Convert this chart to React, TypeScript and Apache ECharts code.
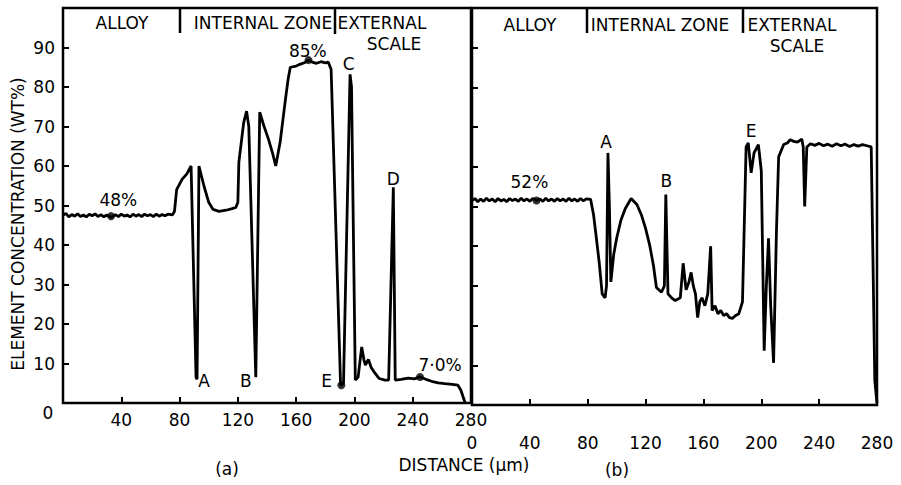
import React, { useEffect, useRef } from "react";
import * as echarts from "echarts";

// Distance (µm) vs element concentration (wt%) — panel (a)
const profileA: [number, number][] = [
  [0, 47.5], [2, 48], [4, 47.1], [6, 47.7], [8, 47.3], [10, 47.9], [12, 47.2], [14, 47.6],
  [16, 47.1], [18, 47.8], [20, 47.4], [22, 47.9], [24, 47.2], [26, 47.7], [28, 47.1],
  [30, 47.6], [33, 47.0], [36, 47.7], [38, 47.2], [40, 47.8], [42, 47.3], [44, 47.6],
  [46, 47.1], [48, 47.8], [50, 47.3], [52, 47.7], [54, 47.2], [56, 47.8], [58, 47.4],
  [60, 47.7], [62, 47.2], [64, 47.8], [66, 47.3], [68, 47.7], [70, 47.4], [72, 47.8],
  [75, 47.6], [76.5, 48.5], [78, 54], [81.7, 56.6],
  [85, 58], [87.9, 60], [91.3, 6.5], [92, 6], [93.3, 60], [96.7, 55], [100, 50.8],
  [103, 49], [107, 48.5], [112, 48.8], [116, 49.2], [118.6, 49.5], [120, 50.8],
  [120.7, 61], [124, 71], [126, 73.9], [127.5, 70], [132.3, 6.5], [135, 73.6], [138, 70],
  [141, 66.8], [144, 63], [146, 60], [149, 66], [152.7, 77], [154.5, 82], [156, 85],
  [160, 85.3], [163, 85.8], [166, 86.2], [168.5, 86.8], [171, 86.3], [174, 86], [177, 86.4],
  [180, 86.1], [182, 86.3], [184, 84.5], [190.5, 4.5], [192.5, 5], [197, 83.2], [198, 80],
  [200.6, 5.8], [202.5, 6.5], [205, 14.2], [206.5, 11], [207.5, 9.6], [209.6, 11],
  [211.5, 9], [214, 7.6], [217, 6.2], [221, 5.8], [223.5, 5.8], [226.7, 54.6], [228, 5.8],
  [232, 6], [237, 6.3], [241, 6.1], [245, 6.6], [249, 6], [253, 5.5], [257.5, 5.1],
  [262, 4.9], [267, 4.7], [271, 4.5], [273, 3.3], [276, 0],
];

// panel (b)
const profileB: [number, number][] = [
  [0, 51.5], [2, 52], [4, 51.2], [6, 51.9], [8, 51.3], [10, 52.1], [12, 51.4], [14, 51.9],
  [16, 51.2], [18, 52], [20, 51.4], [22, 51.8], [24, 51.2], [26, 52], [28, 51.5], [30, 51.9],
  [32, 51.3], [34, 52.1], [36, 51.4], [38, 51.9], [40, 51.3], [42, 52], [44.6, 51.5],
  [47, 51.9], [49, 51.3], [51, 52.1], [53, 51.4], [55, 51.9], [57, 51.3], [59, 52],
  [61, 51.4], [63, 51.9], [65, 51.3], [67, 52.1], [69, 51.4], [71, 51.9], [73, 51.3],
  [75, 52], [77, 51.4], [79, 51.9], [82, 51.8], [84, 48], [86, 42],
  [88, 35.7], [90, 28], [92, 27], [93, 30], [94, 63.5], [95, 50], [96, 31], [98, 38],
  [100, 42], [103, 46.6], [106, 49.5], [110, 52], [114, 50.5], [117, 48], [120, 44.5],
  [123, 40], [125.5, 35], [127.5, 29.6], [131, 28.4], [133, 30], [134, 53], [135.5, 28],
  [138, 27], [140.5, 26.3], [144, 27], [146, 35.7], [148, 29], [150, 31], [151.5, 33.4],
  [153, 30], [154.5, 28], [156, 22], [157.5, 26], [159, 27], [161, 25], [163, 28],
  [165, 40], [166, 23.8], [168, 25], [170, 23], [172, 23.8], [174, 22.5], [176, 23],
  [178, 22], [180, 21.8], [182, 22.5], [184.5, 23], [187, 26], [189.5, 65], [191, 66],
  [193, 58.5], [195, 63.5], [198, 65.6], [200, 59], [202, 13.7], [203.5, 30], [205, 42],
  [206.5, 25], [208.5, 10.6], [210.5, 44], [212, 62.5], [215.5, 65.6], [218, 66],
  [220, 66.8], [222.5, 66.4], [225, 66.2], [228, 67], [229, 65], [230, 50], [231.5, 65],
  [234, 65.8], [237, 65.4], [240, 65.9], [243, 65.3], [246, 65.7], [249, 65.2], [252, 65.8],
  [255, 65.3], [258, 65.7], [261, 65.1], [264, 65.6], [267, 65.2], [270, 65.6], [273, 65.3],
  [276, 65], [278.5, 6], [280, 0.5],
];

const dotsA: [number, number][] = [[33, 47.3], [168.5, 86.8], [245, 6.6], [191, 4.5]];
const dotsB: [number, number][] = [[44.6, 51.5]];

const notesA: [number, number, string][] = [
  [38, 51.5, "48%"], [168, 89, "85%"], [96.8, 5.6, "A"], [125.5, 5.6, "B"],
  [181, 5.6, "E"], [196, 85.8, "C"], [226.7, 56.6, "D"], [258.8, 9.6, "7·0%"],
];
const notesB: [number, number, string][] = [
  [39.7, 56.2, "52%"], [92.6, 66.3, "A"], [134.4, 56.5, "B"], [193, 69, "E"],
];

const FONT = "DejaVu Sans";

export default function App() {
  const ref = useRef<HTMLDivElement>(null);
  useEffect(() => {
    if (!ref.current) return;
    const chart = echarts.init(ref.current, undefined, { renderer: "svg" });
    const txt = (x: number, y: number, s: string, size = 17, extra: any = {}) => ({
      type: "text",
      x,
      y,
      z: 10,
      ...extra,
      style: {
        text: s,
        fill: "#000",
        font: `${size}px "${FONT}"`,
        textAlign: "center",
        textVerticalAlign: "middle",
      },
    });
    const vline = (x: number, y1: number, y2: number) => ({
      type: "line",
      shape: { x1: x, y1, x2: x, y2 },
      style: { stroke: "#000", lineWidth: 2.5 },
    });
    const tick = { show: true, inside: true, length: 6, lineStyle: { color: "#000", width: 2 } };
    chart.setOption({
      animation: false,
      backgroundColor: "#fff",
      grid: [
        { left: 63, top: 8, width: 408, height: 395, show: true, borderColor: "#000", borderWidth: 2.5, backgroundColor: "transparent" },
        { left: 472, top: 8, width: 405, height: 397, show: true, borderColor: "#000", borderWidth: 2.5, backgroundColor: "transparent" },
      ],
      xAxis: [
        {
          gridIndex: 0, type: "value", min: 0, max: 280, interval: 40,
          axisLine: { show: false }, splitLine: { show: false }, axisTick: tick,
          axisLabel: { show: true, margin: 8, color: "#000", fontSize: 17, fontFamily: FONT, showMinLabel: true, showMaxLabel: true, formatter: (v: number) => (v === 0 ? "" : String(v)) },
        },
        {
          gridIndex: 1, type: "value", min: 0, max: 280, interval: 40,
          axisLine: { show: false }, splitLine: { show: false }, axisTick: tick,
          axisLabel: { show: true, margin: 29, color: "#000", fontSize: 17, fontFamily: FONT, showMinLabel: true, showMaxLabel: true },
        },
      ],
      yAxis: [
        {
          gridIndex: 0, type: "value", min: 0, max: 100, interval: 10,
          axisLine: { show: false }, splitLine: { show: false }, axisTick: tick,
          axisLabel: { show: true, margin: 8, color: "#000", fontSize: 17, fontFamily: FONT, formatter: (v: number) => (v === 0 || v === 100 ? "" : String(v)) },
        },
        {
          gridIndex: 1, type: "value", min: 0, max: 100, interval: 10,
          axisLine: { show: false }, splitLine: { show: false }, axisTick: tick,
          axisLabel: { show: false },
        },
      ],
      series: [
        { type: "line", xAxisIndex: 0, yAxisIndex: 0, data: profileA, showSymbol: false, lineStyle: { color: "#000", width: 2.8 }, z: 3 },
        { type: "line", xAxisIndex: 1, yAxisIndex: 1, data: profileB, showSymbol: false, lineStyle: { color: "#000", width: 2.8 }, z: 3 },
        { type: "scatter", xAxisIndex: 0, yAxisIndex: 0, data: dotsA, symbolSize: 8, itemStyle: { color: "#000" }, z: 4 },
        { type: "scatter", xAxisIndex: 1, yAxisIndex: 1, data: dotsB, symbolSize: 8, itemStyle: { color: "#000" }, z: 4 },
      ],
    });
    const noteTexts: any[] = [];
    [notesA, notesB].forEach((notes, gi) => {
      notes.forEach(([x, y, s]) => {
        const p = chart.convertToPixel({ gridIndex: gi }, [x, y]) as number[];
        noteTexts.push(txt(p[0], p[1], s, 17));
      });
    });
    chart.setOption({
      graphic: [
        txt(122, 23, "ALLOY"),
        txt(263, 23, "INTERNAL ZONE"),
        txt(382, 23, "EXTERNAL"),
        txt(394, 44, "SCALE"),
        vline(180, 8, 33),
        vline(335, 8, 34),
        txt(530, 25, "ALLOY"),
        txt(660, 25, "INTERNAL ZONE"),
        txt(792, 25, "EXTERNAL"),
        txt(797, 46, "SCALE"),
        vline(587, 8, 33),
        vline(743, 8, 33),
        txt(48, 413, "0", 17),
        txt(18, 224, "ELEMENT CONCENTRATION (WT%)", 17, { rotation: Math.PI / 2 }),
        txt(464, 465, "DISTANCE (µm)"),
        txt(227, 469, "(a)"),
        txt(617, 470, "(b)"),
        ...noteTexts,
      ],
    });
    return () => chart.dispose();
  }, []);
  return (
    <div
      ref={ref}
      style={{ position: "absolute", left: 0, top: 0, width: 901, height: 485 }}
    />
  );
}
